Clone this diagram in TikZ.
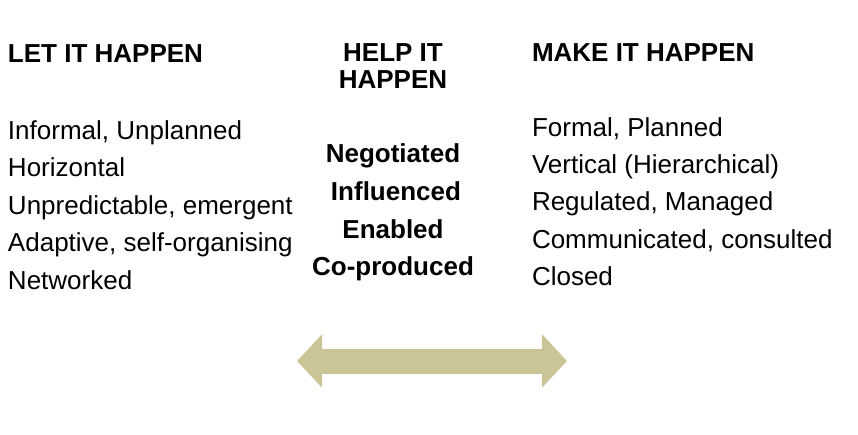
\documentclass[tikz,border=0pt]{standalone}
\usepackage{fontspec}
\setmainfont{Liberation Sans}
\usepackage{tikz}
\usetikzlibrary{positioning,arrows.meta}
\usepackage{xcolor}
\definecolor{khaki}{HTML}{C9C597}

\begin{document}
\begin{tikzpicture}[x=1pt,y=-1pt,
  every node/.style={inner sep=0pt,outer sep=0pt,font=\fontsize{26}{30}\selectfont},
  head/.style={anchor=base west,font=\fontsize{26}{30}\selectfont\bfseries},
  item/.style={anchor=base west},
  mid/.style={anchor=base,font=\fontsize{26}{30}\selectfont\bfseries}]
\useasboundingbox (0,0) rectangle (858,435);
% LEFT COLUMN: let it happen
\node[head] (lh) at (8,63) {LET IT HAPPEN};
\node[item] (l1) at (8,139.5) {Informal, Unplanned};
\node[item] (l2) at (8,176.9) {Horizontal};
\node[item] (l3) at (8,214.3) {Unpredictable, emergent};
\node[item] (l4) at (8,251.7) {Adaptive, self-organising};
\node[item] (l5) at (8,289.1) {Networked};
% MIDDLE COLUMN: help it happen
\node[mid] (mh1) at (393,62) {HELP IT};
\node[mid] (mh2) at (393,89) {HAPPEN};
\node[mid] (m1) at (393,163) {Negotiated};
\node[mid] (m2) at (396,201) {Influenced};
\node[mid] (m3) at (393,238.5) {Enabled};
\node[mid] (m4) at (393,276) {Co-produced};
% RIGHT COLUMN: make it happen
\node[head] (rh) at (532,62) {MAKE IT HAPPEN};
\node[item] (r1) at (532,136.5) {Formal, Planned};
\node[item] (r2) at (532,173.7) {Vertical (Hierarchical)};
\node[item] (r3) at (532,210.9) {Regulated, Managed};
\node[item] (r4) at (532,248.1) {Communicated, consulted};
\node[item] (r5) at (532,285.3) {Closed};
% SPECTRUM ARROW
\coordinate (arrowL) at (297,361);
\coordinate (arrowR) at (567,361);
\draw[khaki,line width=25pt,{Triangle[length=25pt,width=52pt]}-{Triangle[length=25pt,width=52pt]}] (arrowL) -- (arrowR);
\end{tikzpicture}
\end{document}
